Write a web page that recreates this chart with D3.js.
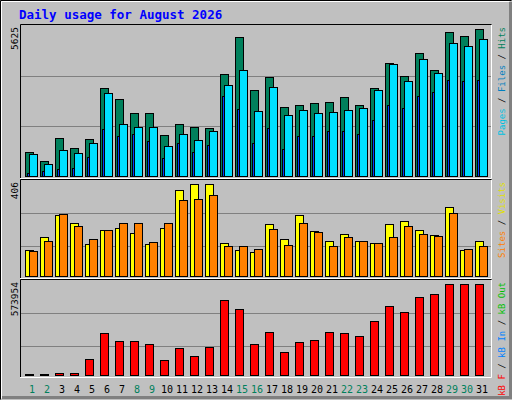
<!DOCTYPE html>
<html><head><meta charset="utf-8">
<script src="https://cdn.jsdelivr.net/npm/d3@7"></script>
<style>body{margin:0;background:#fff}</style>
</head><body><div id="chart"></div>
<script>
const days = d3.range(1, 32);
const weekend = [1, 2, 8, 9, 15, 16, 22, 23, 29, 30];
const hits = [925,592,1443,1073,1406,3293,2886,2368,2368,1554,1961,1850,1813,3811,5180,3219,3700,2590,2664,2738,2775,2960,2664,3293,4218,3737,4588,3959,5365,5217,5476];
const files = [851,481,999,888,1258,3108,1961,1850,1850,1147,1591,1369,1702,3404,3959,2442,3330,2294,2479,2368,2405,2479,2553,3219,4181,3552,4366,3848,4958,4847,5106];
const pages = [148,222,296,333,740,1776,1517,1591,1332,703,1258,925,1184,2997,2516,1258,1813,1036,1517,1517,1702,1702,1591,2109,2664,2553,2997,3145,3589,3552,3589];
const visits = [118,171,261,228,142,200,208,187,142,208,364,388,388,146,118,109,224,163,261,196,155,183,155,146,224,236,200,179,294,118,155];
const sites = [114,155,265,216,163,200,228,228,150,228,323,327,343,134,134,122,204,138,228,191,134,171,155,146,171,216,183,175,269,122,134];
const kbytes = [5000,5000,33000,33000,116000,265000,218600,218600,201200,108400,178000,131600,183800,456300,404100,201200,270800,154800,212800,224400,270800,265000,247600,334500,421500,386700,473700,491100,549100,549100,549100];
const maxHits = 5625, maxVisits = 406, maxKB = 573954;

const svg = d3.select('#chart').append('svg')
    .attr('width', 512).attr('height', 400)
    .style('font-family', 'DejaVu Sans Mono, monospace');

// frame
svg.append('rect').attr('width', 512).attr('height', 400).attr('fill', '#c0c0c0');
svg.append('path').attr('d', 'M0.5,399.5V0.5H511.5').attr('stroke', '#000').attr('fill', 'none');
svg.append('path').attr('d', 'M1.5,398.5V1.5H509.5').attr('stroke', '#fff').attr('fill', 'none');
svg.append('path').attr('d', 'M510.5,2V397.5H2').attr('stroke', '#808080').attr('stroke-width', 3).attr('fill', 'none');

svg.append('text').attr('x', 19).attr('y', 19)
    .attr('fill', '#0000ff').attr('font-weight', 'bold').attr('font-size', 12.5)
    .text('Daily usage for August 2026');

const x = d3.scaleBand().domain(days).range([20, 485]);

function panel(top, base, bottom, max, label) {
    const y = d3.scaleLinear().domain([0, max]).range([bottom, top]);
    [max / 3, max * 2 / 3].forEach(v => {
        svg.append('line').attr('x1', 21).attr('x2', 491)
            .attr('y1', Math.round(y(v)) + 0.5).attr('y2', Math.round(y(v)) + 0.5)
            .attr('stroke', '#808080');
    });
    svg.append('path').attr('d', `M20.5,${base + 1}V${top - 0.5}H491.5`).attr('stroke', '#000').attr('fill', 'none');
    svg.append('path').attr('d', `M491.5,${top}V${base + 1.5}H20`).attr('stroke', '#fff').attr('fill', 'none');
    svg.append('text').attr('transform', `translate(18,${top + 2}) rotate(-90)`)
        .attr('text-anchor', 'end').attr('font-size', 9.5).text(label);
    return y;
}

function bars(vals, y, base, dx, w, color) {
    svg.append('g').selectAll('rect').data(vals).enter().append('rect')
        .attr('x', (d, i) => x(days[i]) + dx + 0.5)
        .attr('y', d => Math.min(base - 1, Math.round(y(d))) + 0.5)
        .attr('width', w)
        .attr('height', d => Math.max(1, base - Math.round(y(d))))
        .attr('fill', color).attr('stroke', '#000');
}

const y1 = panel(25, 177, 177, maxHits, maxHits);
bars(hits, y1, 176, 5, 8, '#00805c');
bars(pages, y1, 176, 7, 5, '#0040ff');
bars(files, y1, 176, 9, 8, '#00e0ff');

const y2 = panel(180, 277, 279, maxVisits, maxVisits);
bars(visits, y2, 276, 5, 8, '#ffff00');
bars(sites, y2, 276, 9, 8, '#ff8000');

const y3 = panel(280, 376, 379, maxKB, maxKB);
bars(kbytes, y3, 375, 5, 8, '#ff0000');

function legend(top, parts) {
    const t = svg.append('text').attr('transform', `translate(505,${top + 2}) rotate(-90)`)
        .attr('text-anchor', 'end').attr('font-size', 9);
    parts.forEach(p => t.append('tspan').attr('fill', p[1]).text(p[0]));
}
legend(25, [['Pages', '#00c0e0'], [' / ', '#000'], ['Files', '#0080c0'], [' / ', '#000'], ['Hits', '#00805c']]);
legend(180, [['Sites', '#ff8000'], [' / ', '#000'], ['Visits', '#e0e000']]);
legend(280, [['kB F', '#ff0000'], [' / ', '#000'], ['kB In', '#0080ff'], [' / ', '#000'], ['kB Out', '#00c000']]);

svg.append('g').selectAll('text').data(days).enter().append('text')
    .attr('x', d => x(d) + 12).attr('y', 393)
    .attr('text-anchor', 'middle').attr('font-size', 10)
    .attr('fill', d => weekend.includes(d) ? '#00805c' : '#000')
    .text(d => d);
</script></body></html>
